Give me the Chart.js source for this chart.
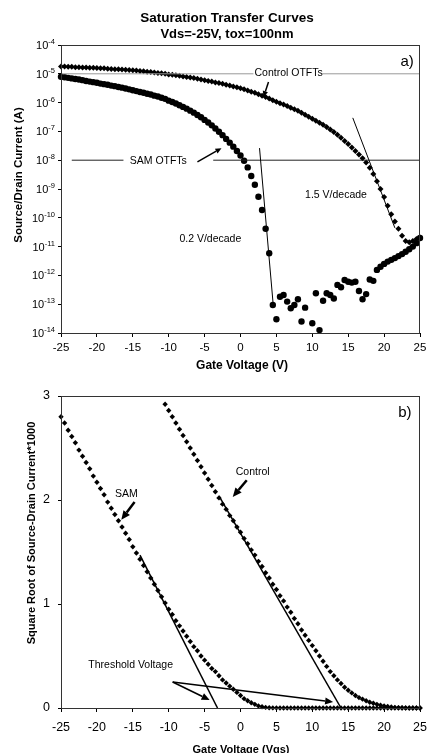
<!DOCTYPE html>
<html>
<head>
<title>Saturation Transfer Curves</title>
<script src="https://cdn.jsdelivr.net/npm/chart.js"></script>
<style>
  body { margin: 0; background: #fff; }
  #wrap { position: relative; width: 427px; height: 753px; }
  canvas { position: absolute; left: 0; }
</style>
</head>
<body>
<div id="wrap">
  <canvas id="topChart" width="427" height="376" style="top:0"></canvas>
  <canvas id="bottomChart" width="427" height="377" style="top:376px"></canvas>
</div>
<script>
// gate voltage sweep (V), one point every 0.5 V
const gateVoltage = [
  -25, -24.5, -24, -23.5, -23, -22.5, -22, -21.5, -21, -20.5,
  -20, -19.5, -19, -18.5, -18, -17.5, -17, -16.5, -16, -15.5,
  -15, -14.5, -14, -13.5, -13, -12.5, -12, -11.5, -11, -10.5,
  -10, -9.5, -9, -8.5, -8, -7.5, -7, -6.5, -6, -5.5,
  -5, -4.5, -4, -3.5, -3, -2.5, -2, -1.5, -1, -0.5,
  0, 0.5, 1, 1.5, 2, 2.5, 3, 3.5, 4, 4.5,
  5, 5.5, 6, 6.5, 7, 7.5, 8, 8.5, 9, 9.5,
  10, 10.5, 11, 11.5, 12, 12.5, 13, 13.5, 14, 14.5,
  15, 15.5, 16, 16.5, 17, 17.5, 18, 18.5, 19, 19.5,
  20, 20.5, 21, 21.5, 22, 22.5, 23, 23.5, 24, 24.5,
  25
];

// a) source/drain current (A)
const controlCurrent = [
  1.78e-5, 1.78e-5, 1.74e-5, 1.74e-5, 1.70e-5, 1.70e-5, 1.66e-5, 1.66e-5, 1.62e-5, 1.62e-5,
  1.58e-5, 1.55e-5, 1.55e-5, 1.51e-5, 1.48e-5, 1.45e-5, 1.45e-5, 1.41e-5, 1.38e-5, 1.35e-5,
  1.32e-5, 1.29e-5, 1.26e-5, 1.23e-5, 1.17e-5, 1.15e-5, 1.12e-5, 1.07e-5, 1.05e-5, 1.00e-5,
  9.55e-6, 9.33e-6, 8.91e-6, 8.51e-6, 8.13e-6, 7.76e-6, 7.41e-6, 7.08e-6, 6.76e-6, 6.31e-6,
  6.03e-6, 5.62e-6, 5.37e-6, 5.01e-6, 4.79e-6, 4.47e-6, 4.17e-6, 3.89e-6, 3.63e-6, 3.39e-6,
  3.16e-6, 2.88e-6, 2.63e-6, 2.40e-6, 2.19e-6, 1.95e-6, 1.74e-6, 1.55e-6, 1.38e-6, 1.20e-6,
  1.07e-6, 9.55e-7, 8.51e-7, 7.59e-7, 6.61e-7, 5.89e-7, 5.25e-7, 4.47e-7, 3.80e-7, 3.24e-7,
  2.75e-7, 2.34e-7, 2.00e-7, 1.70e-7, 1.41e-7, 1.17e-7, 9.55e-8, 7.59e-8, 6.03e-8, 4.68e-8,
  3.63e-8, 2.75e-8, 2.09e-8, 1.58e-8, 1.17e-8, 8.32e-9, 5.50e-9, 3.31e-9, 1.86e-9, 1.00e-9,
  5.25e-10, 2.63e-10, 1.32e-10, 7.41e-11, 4.17e-11, 2.40e-11, 1.58e-11, 1.41e-11, 1.58e-11, 1.82e-11,
  2.09e-11
];
const samCurrent = [
  7.94e-6, 7.59e-6, 7.24e-6, 6.92e-6, 6.61e-6, 6.31e-6, 6.03e-6, 5.62e-6, 5.37e-6, 5.13e-6,
  4.90e-6, 4.57e-6, 4.37e-6, 4.17e-6, 3.89e-6, 3.72e-6, 3.47e-6, 3.31e-6, 3.09e-6, 2.88e-6,
  2.69e-6, 2.51e-6, 2.34e-6, 2.19e-6, 2.04e-6, 1.91e-6, 1.74e-6, 1.62e-6, 1.48e-6, 1.35e-6,
  1.17e-6, 1.05e-6, 9.33e-7, 8.13e-7, 7.08e-7, 6.17e-7, 5.25e-7, 4.47e-7, 3.72e-7, 3.09e-7,
  2.51e-7, 2.04e-7, 1.62e-7, 1.26e-7, 9.77e-8, 7.41e-8, 5.50e-8, 4.07e-8, 2.95e-8, 2.09e-8,
  1.45e-8, 9.55e-9, 5.62e-9, 2.82e-9, 1.41e-9, 5.37e-10, 1.86e-10, 4.17e-11, 5.89e-12, 9.33e-14,
  3.02e-14, 1.82e-13, 2.09e-13, 1.23e-13, 7.24e-14, 9.33e-14, 1.48e-13, 2.51e-14, 7.59e-14, null,
  2.19e-14, 2.40e-13, 1.26e-14, 1.32e-13, 2.40e-13, 2.09e-13, 1.58e-13, 4.68e-13, 3.89e-13, 6.92e-13,
  6.03e-13, 5.62e-13, 6.03e-13, 2.88e-13, 1.48e-13, 2.24e-13, 7.24e-13, 6.46e-13, 1.55e-12, 2.00e-12,
  2.51e-12, 3.02e-12, 3.47e-12, 3.98e-12, 4.68e-12, 5.50e-12, 6.61e-12, 8.13e-12, 1.00e-11, 1.32e-11,
  2.00e-11
];

// b) square root of source-drain current * 1000
const controlSqrt = [
  null, null, null, null, null, null, null, null, null, null,
  null, null, null, null, null, null, null, null, null, null,
  null, null, null, null, null, null, null, null, null, 2.92,
  2.86, 2.80, 2.74, 2.68, 2.62, 2.56, 2.50, 2.44, 2.38, 2.32,
  2.26, 2.20, 2.14, 2.08, 2.02, 1.96, 1.91, 1.85, 1.80, 1.74,
  1.69, 1.63, 1.58, 1.52, 1.47, 1.41, 1.36, 1.30, 1.25, 1.19,
  1.14, 1.08, 1.03, 0.97, 0.92, 0.86, 0.81, 0.75, 0.70, 0.65,
  0.60, 0.55, 0.50, 0.45, 0.40, 0.35, 0.31, 0.27, 0.235, 0.20,
  0.17, 0.145, 0.12, 0.10, 0.085, 0.07, 0.056, 0.045, 0.035, 0.027,
  0.02, 0.014, 0.01, 0.006, 0.004, 0.002, 0.001, 0, 0, 0,
  0
];
const samSqrt = [
  2.80, 2.74, 2.67, 2.61, 2.55, 2.48, 2.42, 2.36, 2.30, 2.23,
  2.17, 2.11, 2.05, 1.98, 1.92, 1.86, 1.80, 1.74, 1.68, 1.62,
  1.55, 1.49, 1.43, 1.37, 1.31, 1.25, 1.19, 1.13, 1.07, 1.01,
  0.95, 0.90, 0.84, 0.79, 0.74, 0.69, 0.64, 0.59, 0.55, 0.50,
  0.46, 0.42, 0.38, 0.35, 0.31, 0.27, 0.24, 0.21, 0.18, 0.15,
  0.12, 0.09, 0.07, 0.05, 0.035, 0.02, 0.012, 0.006, 0.003, 0.001,
  0.001, 0, 0, 0, 0, 0, 0, 0, 0, 0,
  0, 0, 0, 0, 0, 0, 0, 0, 0, 0,
  0, 0, 0, 0, 0, 0, 0, 0, 0, 0,
  0, 0, 0, 0, 0, 0, 0, 0, 0, 0,
  0
];

// fitted lines and reference lines
const steepSlopeV = [2.65, 4.56];
const steepSlopeI = [2.63e-8, 9.3e-14];
const shallowSlopeV = [15.64, 21.5];
const shallowSlopeI = [2.95e-7, 4.47e-11];
const refHighV = [-25, 1.8, 6, 11.4, 25];
const refHighI = [1e-5, 1e-5, null, 1e-5, 1e-5];
const refLowV = [-23.5, -16.3, -10, -3.8, 25];
const refLowI = [1e-8, 1e-8, null, 1e-8, 1e-8];
const samThresholdV = [-14, -3.2];
const samThresholdY = [1.47, 0];
const controlThresholdV = [-3, 14];
const controlThresholdY = [2.04, 0];

// axis ticks
const gateTicks = [-25, -20, -15, -10, -5, 0, 5, 10, 15, 20, 25];
const currentTickExponents = [-14, -13, -12, -11, -10, -9, -8, -7, -6, -5, -4];
const sqrtTicks = [0, 1, 2, 3];

const FONT = '"Liberation Sans", Arial, sans-serif';
Chart.defaults.font.family = FONT;
Chart.defaults.color = '#000';

const pts = (xs, ys) => xs.map((v, i) => ({ x: v, y: ys[i] }));

function markers(data, style, r) {
  return { data: data, showLine: false, pointStyle: style, pointRadius: r, pointHoverRadius: r,
           pointBorderWidth: 0, backgroundColor: '#000', borderColor: '#000', clip: false };
}
function line(data, color, width) {
  return { data: data, showLine: true, pointRadius: 0, borderColor: color, borderWidth: width,
           spanGaps: false, fill: false };
}

function arrow(ctx, x1, y1, x2, y2, width, head) {
  const a = Math.atan2(y2 - y1, x2 - x1);
  const bx = x2 - head * Math.cos(a), by = y2 - head * Math.sin(a);
  const hw = head * 0.45;
  ctx.save();
  ctx.strokeStyle = '#000'; ctx.fillStyle = '#000'; ctx.lineWidth = width;
  ctx.beginPath(); ctx.moveTo(x1, y1); ctx.lineTo(bx, by); ctx.stroke();
  ctx.beginPath(); ctx.moveTo(x2, y2);
  ctx.lineTo(bx + hw * Math.sin(a), by - hw * Math.cos(a));
  ctx.lineTo(bx - hw * Math.sin(a), by + hw * Math.cos(a));
  ctx.closePath(); ctx.fill();
  ctx.restore();
}

function text(ctx, str, x, y, font, rot) {
  ctx.save();
  ctx.font = font; ctx.fillStyle = '#000';
  ctx.textAlign = 'center'; ctx.textBaseline = 'middle';
  ctx.translate(x, y);
  if (rot) ctx.rotate(rot);
  ctx.fillText(str, 0, 0);
  ctx.restore();
}

function frame(chart) {
  const { ctx, chartArea: a } = chart;
  ctx.save();
  ctx.strokeStyle = '#333'; ctx.lineWidth = 1;
  ctx.strokeRect(a.left + 0.5, a.top + 0.5, a.right - a.left - 1, a.bottom - a.top);
  ctx.restore();
}

// labels, arrows and titles for panel a)
const decorTop = {
  id: 'decorTop',
  afterDraw(chart) {
    const { ctx, chartArea: a, scales: { x, y } } = chart;
    frame(chart);
    // decade labels with raised exponent
    ctx.save();
    ctx.fillStyle = '#000'; ctx.textAlign = 'right'; ctx.textBaseline = 'alphabetic';
    currentTickExponents.forEach(e => {
      const py = y.getPixelForValue(Math.pow(10, e));
      ctx.font = '7.5px ' + FONT;
      const sup = String(e);
      const w = ctx.measureText(sup).width;
      ctx.fillText(sup, a.left - 6, py - 1);
      ctx.font = '11px ' + FONT;
      ctx.fillText('10', a.left - 6 - w, py + 4);
    });
    ctx.restore();

    text(ctx, 'Saturation Transfer Curves', 227, 18, 'bold 13.5px ' + FONT);
    text(ctx, 'Vds=-25V, tox=100nm', 227, 34, 'bold 13px ' + FONT);
    text(ctx, 'Gate Voltage (V)', 242, 366, 'bold 12px ' + FONT);
    text(ctx, 'Source/Drain Current (A)', 19, 175, 'bold 11.5px ' + FONT, -Math.PI / 2);

    const P = (v, i) => [x.getPixelForValue(v), y.getPixelForValue(i)];
    let p = P(23.2, 2.6e-5); text(ctx, 'a)', p[0], p[1], '15px ' + FONT);
    p = P(6.7, 1.07e-5); text(ctx, 'Control OTFTs', p[0], p[1], '10.5px ' + FONT);
    p = P(-11.45, 9.3e-9); text(ctx, 'SAM OTFTs', p[0], p[1], '10.5px ' + FONT);
    p = P(13.3, 6.2e-10); text(ctx, '1.5 V/decade', p[0], p[1], '10.5px ' + FONT);
    p = P(-4.2, 1.8e-11); text(ctx, '0.2 V/decade', p[0], p[1], '10.5px ' + FONT);

    let s = P(3.9, 5.2e-6), e = P(3.2, 1.55e-6);
    arrow(ctx, s[0], s[1], e[0], e[1], 1.5, 6);
    s = P(-6.0, 8.7e-9); e = P(-2.65, 2.6e-8);
    arrow(ctx, s[0], s[1], e[0], e[1], 1.5, 6);
  }
};

// labels, arrows and titles for panel b)
const decorBottom = {
  id: 'decorBottom',
  afterDraw(chart) {
    const { ctx, scales: { x, y } } = chart;
    frame(chart);
    text(ctx, 'Gate Voltage (Vgs)', 241, 374, 'bold 11px ' + FONT);
    text(ctx, 'Square Root of Source-Drain Current*1000', 32, 157, 'bold 11px ' + FONT, -Math.PI / 2);

    const P = (v, q) => [x.getPixelForValue(v), y.getPixelForValue(q)];
    let p = P(22.9, 2.84); text(ctx, 'b)', p[0], p[1], '15px ' + FONT);
    p = P(1.7, 2.27); text(ctx, 'Control', p[0], p[1], '10.5px ' + FONT);
    p = P(-15.9, 2.06); text(ctx, 'SAM', p[0], p[1], '10.5px ' + FONT);
    p = P(-15.3, 0.41); text(ctx, 'Threshold Voltage', p[0], p[1], '10.5px ' + FONT);

    let s = P(0.87, 2.19), e = P(-1.08, 2.03);
    arrow(ctx, s[0], s[1], e[0], e[1], 2.5, 9);
    s = P(-14.75, 1.98); e = P(-16.6, 1.81);
    arrow(ctx, s[0], s[1], e[0], e[1], 2.5, 9);
    s = P(-9.45, 0.25); e = P(-4.3, 0.077);
    arrow(ctx, s[0], s[1], e[0], e[1], 1.5, 8);
    e = P(12.9, 0.058);
    arrow(ctx, s[0], s[1], e[0], e[1], 1.5, 8);
  }
};

const xScale = (height, fontSize, pad) => ({
  type: 'linear', min: -25, max: 25,
  afterBuildTicks: s => { s.ticks = gateTicks.map(v => ({ value: v })); },
  afterFit: s => { s.height = height; s.paddingLeft = 0; s.paddingRight = 0; },
  ticks: { font: { size: fontSize }, padding: pad, maxRotation: 0, autoSkip: false, color: '#000' },
  grid: { drawOnChartArea: false, tickLength: 4, color: '#000' },
  border: { color: '#000' }
});

new Chart(document.getElementById('topChart'), {
  type: 'scatter',
  data: {
    datasets: [
      line(pts(steepSlopeV, steepSlopeI), '#000', 1),
      line(pts(shallowSlopeV, shallowSlopeI), '#000', 1),
      line(pts(refHighV, refHighI), '#999', 1),
      line(pts(refLowV, refLowI), '#222', 1),
      markers(pts(gateVoltage, controlCurrent), 'rectRot', 3),
      markers(pts(gateVoltage, samCurrent), 'circle', 3.2)
    ]
  },
  options: {
    responsive: false, animation: false,
    layout: { padding: { top: 45, right: 7, bottom: 0, left: 0 } },
    plugins: { legend: { display: false }, tooltip: { enabled: false } },
    scales: {
      x: xScale(43, 11.5, 4),
      y: {
        type: 'logarithmic', min: 1e-14, max: 1e-4,
        afterBuildTicks: s => { s.ticks = currentTickExponents.map(e => ({ value: Math.pow(10, e) })); },
        afterFit: s => { s.width = 61; s.paddingTop = 0; s.paddingBottom = 0; },
        ticks: { callback: () => '' },
        grid: { drawOnChartArea: false, tickLength: 3, color: '#000' },
        border: { color: '#000' }
      }
    }
  },
  plugins: [decorTop]
});

new Chart(document.getElementById('bottomChart'), {
  type: 'scatter',
  data: {
    datasets: [
      line(pts(samThresholdV, samThresholdY), '#000', 1.5),
      line(pts(controlThresholdV, controlThresholdY), '#000', 1.5),
      markers(pts(gateVoltage, controlSqrt), 'rectRot', 2.7),
      markers(pts(gateVoltage, samSqrt), 'rectRot', 2.7)
    ]
  },
  options: {
    responsive: false, animation: false,
    layout: { padding: { top: 20, right: 7, bottom: 0, left: 0 } },
    plugins: { legend: { display: false }, tooltip: { enabled: false } },
    scales: {
      x: xScale(45, 12.5, 8),
      y: {
        type: 'linear', min: 0, max: 3,
        afterBuildTicks: s => { s.ticks = sqrtTicks.map(v => ({ value: v })); },
        afterFit: s => { s.width = 61; s.paddingTop = 0; s.paddingBottom = 0; },
        ticks: { font: { size: 12.5 }, padding: 8, color: '#000' },
        grid: { drawOnChartArea: false, tickLength: 3, color: '#000' },
        border: { color: '#000' }
      }
    }
  },
  plugins: [decorBottom]
});
</script>
</body>
</html>
